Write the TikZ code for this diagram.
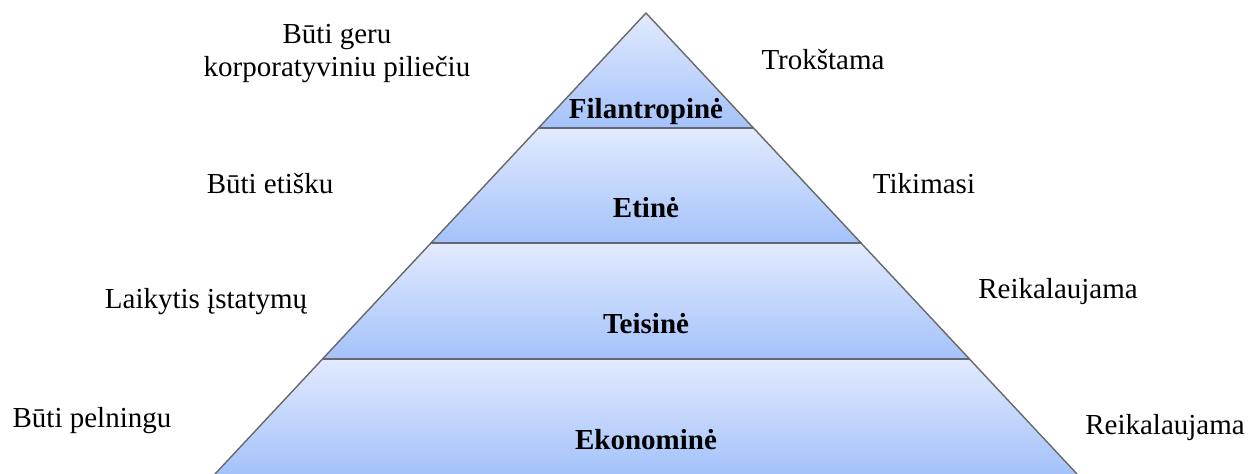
\documentclass[tikz,border=0pt]{standalone}
\usepackage{fontspec}
\setmainfont{Liberation Serif}
\begin{document}
\begin{tikzpicture}[x=1pt,y=-1pt,
  lbl/.style={font=\fontsize{29}{33}\selectfont, align=center, inner sep=0pt},
  layerlbl/.style={font=\fontsize{29}{33}\selectfont\bfseries, inner sep=0pt},
  layer/.style={top color=layertop, bottom color=layerbot},
  edge/.style={draw=edgegray, line width=1.4pt, line join=miter},
  sep/.style={draw=sepgray, line width=2pt}]
\definecolor{layertop}{RGB}{226,234,254}
\definecolor{layerbot}{RGB}{164,194,250}
\definecolor{edgegray}{RGB}{105,105,105}
\definecolor{sepgray}{RGB}{100,104,112}
\useasboundingbox (0,0) rectangle (1254,474);
% corners
\coordinate (apex) at (646,13);
\coordinate (l1) at (538,128);  \coordinate (r1) at (754,128);
\coordinate (l2) at (430.5,243); \coordinate (r2) at (861.5,243);
\coordinate (l3) at (322,359);  \coordinate (r3) at (970,359);
\coordinate (l4) at (215,474);  \coordinate (r4) at (1077,474);
% layers
\shade[layer] (apex) -- (r1) -- (l1) -- cycle;
\shade[layer] (l1) -- (r1) -- (r2) -- (l2) -- cycle;
\shade[layer] (l2) -- (r2) -- (r3) -- (l3) -- cycle;
\shade[layer] (l3) -- (r3) -- (r4) -- (l4) -- cycle;
% separators and outline
\draw[sep] (l1) -- (r1);
\draw[sep] (l2) -- (r2);
\draw[sep] (l3) -- (r3);
\draw[edge] (l4) -- (apex) -- (r4);
% layer labels
\node[layerlbl] (fil) at (646,112) {Filantropinė};
\node[layerlbl] (eti) at (646,208) {Etinė};
\node[layerlbl] (tei) at (646,324) {Teisinė};
\node[layerlbl] (eko) at (646,440) {Ekonominė};
% left texts
\node[lbl] (gl1) at (337,54) {Būti geru\\korporatyviniu piliečiu};
\node[lbl] (gl2) at (270,184) {Būti etišku};
\node[lbl] (gl3) at (206,302) {Laikytis įstatymų};
\node[lbl] (gl4) at (92,421) {Būti pelningu};
% right texts
\node[lbl] (gr1) at (823,60) {Trokštama};
\node[lbl] (gr2) at (924,184) {Tikimasi};
\node[lbl] (gr3) at (1058,292) {Reikalaujama};
\node[lbl] (gr4) at (1165,428) {Reikalaujama};
\end{tikzpicture}
\end{document}
